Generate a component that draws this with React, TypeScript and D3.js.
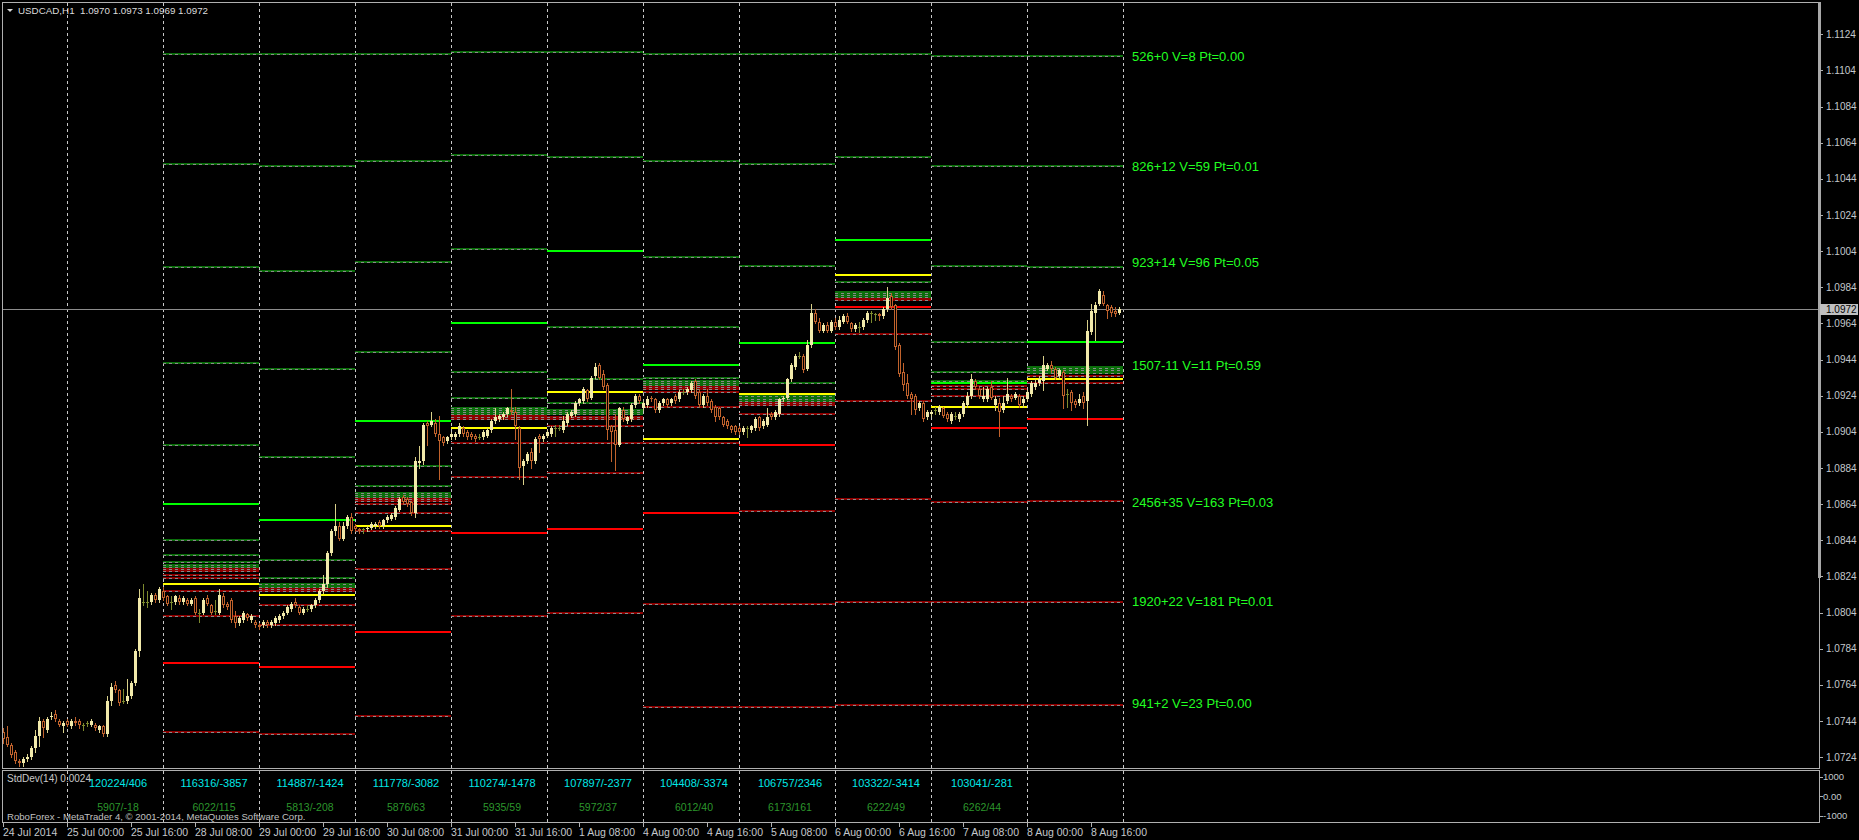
import React from "react";
import * as d3 from "d3";

const FONT = "'Liberation Sans', Arial, sans-serif";

// ---------- Candles (open, high, low, close) per trading day ----------
const c0724 = [
  [1.0738,1.0740,1.0732,1.0734],[1.0735,1.0741,1.0730,1.0731],[1.0731,1.0732,1.0724,1.0725],[1.0727,1.0728,1.0721,1.0722],
  [1.0722,1.0723,1.0719,1.0721],[1.0721,1.0724,1.0719,1.0723],[1.0723,1.0726,1.0722,1.0724],[1.0724,1.0730,1.0723,1.0729],
  [1.0729,1.0739,1.0727,1.0736],[1.0736,1.0746,1.0730,1.0744],[1.0744,1.0745,1.0735,1.0740],[1.0739,1.0746,1.0738,1.0745],
  [1.0746,1.0749,1.0745,1.0747],[1.0748,1.0750,1.0744,1.0745],[1.0744,1.0745,1.0741,1.0742],[1.0741,1.0744,1.0738,1.0743],
];
const c0725 = [
  [1.0744,1.0745,1.0741,1.0742],[1.0741,1.0745,1.0740,1.0744],[1.0744,1.0746,1.0742,1.0743],[1.0744,1.0745,1.0740,1.0742],
  [1.0742,1.0743,1.0739,1.0742],[1.0743,1.0744,1.0741,1.0743],[1.0742,1.0745,1.0741,1.0744],[1.0742,1.0743,1.0739,1.0740],
  [1.0739,1.0742,1.0738,1.0741],[1.0741,1.0742,1.0736,1.0737],[1.0737,1.0758,1.0736,1.0755],[1.0755,1.0765,1.0753,1.0763],
  [1.0764,1.0766,1.0760,1.0761],[1.0761,1.0762,1.0753,1.0754],[1.0755,1.0762,1.0754,1.0755],[1.0755,1.0767,1.0754,1.0758],
  [1.0758,1.0766,1.0757,1.0765],[1.0765,1.0784,1.0764,1.0783],[1.0783,1.0817,1.0780,1.0812],[1.0810,1.0820,1.0808,1.0810],
  [1.0810,1.0816,1.0807,1.0810],[1.0810,1.0815,1.0809,1.0814],[1.0814,1.0815,1.0810,1.0811],[1.0811,1.0818,1.0810,1.0817],
];
const c0728 = [
  [1.0816,1.0818,1.0811,1.0812],[1.0813,1.0814,1.0808,1.0809],[1.0810,1.0813,1.0806,1.0810],[1.0810,1.0814,1.0809,1.0813],
  [1.0812,1.0814,1.0809,1.0810],[1.0810,1.0813,1.0809,1.0812],[1.0811,1.0812,1.0808,1.0809],[1.0809,1.0812,1.0808,1.0811],
  [1.0812,1.0813,1.0803,1.0804],[1.0804,1.0806,1.0799,1.0804],[1.0804,1.0812,1.0803,1.0811],[1.0812,1.0814,1.0808,1.0809],
  [1.0808,1.0809,1.0803,1.0804],[1.0805,1.0811,1.0803,1.0805],[1.0804,1.0817,1.0803,1.0814],[1.0813,1.0815,1.0807,1.0808],
  [1.0809,1.0810,1.0806,1.0807],[1.0811,1.0812,1.0799,1.0800],[1.0802,1.0805,1.0796,1.0798],[1.0798,1.0802,1.0797,1.0801],
  [1.0800,1.0805,1.0799,1.0804],[1.0803,1.0804,1.0800,1.0801],[1.0800,1.0803,1.0799,1.0802],[1.0799,1.0800,1.0796,1.0797],
];
const c0729 = [
  [1.0797,1.0798,1.0795,1.0796],[1.0797,1.0800,1.0796,1.0799],[1.0799,1.0800,1.0796,1.0797],[1.0797,1.0800,1.0796,1.0799],
  [1.0798,1.0802,1.0797,1.0801],[1.0800,1.0803,1.0799,1.0802],[1.0802,1.0805,1.0801,1.0804],[1.0804,1.0808,1.0803,1.0807],
  [1.0806,1.0810,1.0805,1.0809],[1.0810,1.0812,1.0807,1.0808],[1.0807,1.0808,1.0803,1.0804],[1.0804,1.0807,1.0803,1.0806],
  [1.0806,1.0808,1.0805,1.0806],[1.0806,1.0809,1.0805,1.0808],[1.0808,1.0812,1.0807,1.0811],[1.0811,1.0817,1.0810,1.0816],
  [1.0816,1.0825,1.0815,1.0820],[1.0820,1.0838,1.0818,1.0837],[1.0837,1.0850,1.0836,1.0849],[1.0849,1.0864,1.0847,1.0852],
  [1.0852,1.0854,1.0844,1.0845],[1.0845,1.0854,1.0844,1.0852],[1.0852,1.0858,1.0851,1.0857],[1.0857,1.0859,1.0848,1.0849],
];
const c0730 = [
  [1.0852,1.0853,1.0849,1.0850],[1.0850,1.0851,1.0848,1.0849],[1.0850,1.0851,1.0848,1.0850],[1.0850,1.0852,1.0849,1.0851],
  [1.0851,1.0854,1.0850,1.0853],[1.0852,1.0854,1.0851,1.0853],[1.0854,1.0855,1.0851,1.0852],[1.0852,1.0856,1.0851,1.0855],
  [1.0855,1.0858,1.0854,1.0857],[1.0856,1.0859,1.0855,1.0858],[1.0857,1.0863,1.0856,1.0862],[1.0861,1.0868,1.0860,1.0867],
  [1.0868,1.0869,1.0864,1.0865],[1.0867,1.0868,1.0863,1.0864],[1.0865,1.0866,1.0858,1.0859],[1.0859,1.0890,1.0857,1.0888],
  [1.0887,1.0896,1.0884,1.0888],[1.0888,1.0909,1.0886,1.0908],[1.0909,1.0910,1.0897,1.0907],[1.0908,1.0915,1.0907,1.0910],
  [1.0909,1.0911,1.0902,1.0903],[1.0903,1.0913,1.0878,1.0899],[1.0901,1.0902,1.0897,1.0898],[1.0899,1.0902,1.0898,1.0901],
];
const c0731 = [
  [1.0901,1.0904,1.0900,1.0903],[1.0901,1.0904,1.0900,1.0903],[1.0903,1.0909,1.0902,1.0907],[1.0906,1.0907,1.0902,1.0903],
  [1.0904,1.0905,1.0900,1.0901],[1.0903,1.0904,1.0900,1.0901],[1.0902,1.0903,1.0899,1.0900],[1.0901,1.0903,1.0900,1.0901],
  [1.0901,1.0905,1.0900,1.0904],[1.0902,1.0906,1.0901,1.0905],[1.0905,1.0911,1.0904,1.0910],[1.0910,1.0917,1.0909,1.0912],
  [1.0911,1.0914,1.0910,1.0913],[1.0912,1.0915,1.0911,1.0914],[1.0914,1.0918,1.0913,1.0917],[1.0916,1.0928,1.0914,1.0915],
  [1.0915,1.0918,1.0900,1.0907],[1.0906,1.0907,1.0878,1.0884],[1.0885,1.0889,1.0875,1.0888],[1.0888,1.0893,1.0887,1.0892],
  [1.0893,1.0895,1.0884,1.0888],[1.0888,1.0901,1.0887,1.0900],[1.0902,1.0903,1.0893,1.0900],[1.0900,1.0903,1.0899,1.0902],
];
const c0801 = [
  [1.0902,1.0905,1.0901,1.0904],[1.0903,1.0907,1.0902,1.0906],[1.0906,1.0908,1.0902,1.0906],[1.0906,1.0908,1.0905,1.0906],
  [1.0905,1.0913,1.0904,1.0910],[1.0909,1.0915,1.0908,1.0914],[1.0913,1.0916,1.0912,1.0915],[1.0914,1.0921,1.0913,1.0920],
  [1.0920,1.0923,1.0919,1.0922],[1.0921,1.0929,1.0920,1.0928],[1.0927,1.0928,1.0921,1.0922],[1.0923,1.0935,1.0922,1.0934],
  [1.0935,1.0942,1.0934,1.0940],[1.0941,1.0942,1.0933,1.0934],[1.0936,1.0938,1.0928,1.0929],[1.0930,1.0931,1.0900,1.0905],
  [1.0907,1.0908,1.0888,1.0904],[1.0905,1.0914,1.0883,1.0897],[1.0897,1.0918,1.0896,1.0917],[1.0916,1.0918,1.0910,1.0911],
  [1.0910,1.0913,1.0909,1.0912],[1.0911,1.0920,1.0910,1.0919],[1.0919,1.0925,1.0918,1.0924],[1.0924,1.0925,1.0920,1.0921],
];
const c0804 = [
  [1.0917,1.0921,1.0916,1.0920],[1.0919,1.0924,1.0918,1.0922],[1.0923,1.0924,1.0921,1.0922],[1.0922,1.0923,1.0915,1.0916],
  [1.0916,1.0921,1.0915,1.0920],[1.0920,1.0923,1.0919,1.0922],[1.0922,1.0923,1.0918,1.0919],[1.0920,1.0923,1.0919,1.0922],
  [1.0924,1.0925,1.0920,1.0921],[1.0922,1.0927,1.0921,1.0926],[1.0926,1.0928,1.0925,1.0926],[1.0926,1.0929,1.0925,1.0928],
  [1.0927,1.0932,1.0926,1.0931],[1.0932,1.0933,1.0923,1.0924],[1.0926,1.0928,1.0918,1.0919],[1.0919,1.0925,1.0918,1.0924],
  [1.0924,1.0928,1.0919,1.0920],[1.0921,1.0922,1.0915,1.0916],[1.0918,1.0919,1.0910,1.0912],[1.0917,1.0918,1.0911,1.0912],
  [1.0912,1.0913,1.0907,1.0908],[1.0910,1.0911,1.0906,1.0907],[1.0907,1.0908,1.0904,1.0905],[1.0907,1.0908,1.0903,1.0904],
];
const c0805 = [
  [1.0906,1.0907,1.0903,1.0904],[1.0904,1.0907,1.0903,1.0906],[1.0906,1.0907,1.0901,1.0906],[1.0905,1.0908,1.0904,1.0907],
  [1.0906,1.0912,1.0905,1.0911],[1.0912,1.0913,1.0905,1.0906],[1.0907,1.0911,1.0906,1.0910],[1.0908,1.0917,1.0907,1.0912],
  [1.0914,1.0915,1.0911,1.0912],[1.0912,1.0916,1.0911,1.0915],[1.0914,1.0923,1.0913,1.0922],[1.0922,1.0924,1.0921,1.0923],
  [1.0923,1.0934,1.0922,1.0933],[1.0933,1.0942,1.0932,1.0941],[1.0940,1.0947,1.0939,1.0946],[1.0946,1.0948,1.0945,1.0946],
  [1.0946,1.0947,1.0937,1.0938],[1.0939,1.0955,1.0938,1.0952],[1.0952,1.0975,1.0951,1.0970],[1.0970,1.0972,1.0964,1.0965],
  [1.0965,1.0967,1.0959,1.0960],[1.0960,1.0964,1.0959,1.0963],[1.0963,1.0965,1.0959,1.0960],[1.0960,1.0966,1.0959,1.0965],
];
const c0806 = [
  [1.0965,1.0967,1.0961,1.0962],[1.0962,1.0968,1.0961,1.0966],[1.0965,1.0969,1.0964,1.0968],[1.0968,1.0970,1.0964,1.0965],
  [1.0964,1.0965,1.0960,1.0961],[1.0961,1.0964,1.0960,1.0963],[1.0962,1.0965,1.0959,1.0962],[1.0962,1.0967,1.0961,1.0966],
  [1.0966,1.0971,1.0965,1.0970],[1.0970,1.0971,1.0965,1.0970],[1.0969,1.0970,1.0966,1.0969],[1.0969,1.0970,1.0966,1.0968],
  [1.0968,1.0973,1.0967,1.0972],[1.0972,1.0984,1.0971,1.0978],[1.0979,1.0981,1.0972,1.0973],[1.0974,1.0975,1.0950,1.0951],
  [1.0952,1.0953,1.0935,1.0936],[1.0937,1.0942,1.0927,1.0930],[1.0931,1.0936,1.0923,1.0924],[1.0925,1.0926,1.0914,1.0922],
  [1.0924,1.0925,1.0914,1.0916],[1.0917,1.0921,1.0916,1.0920],[1.0920,1.0921,1.0910,1.0911],[1.0912,1.0916,1.0911,1.0915],
];
const c0807 = [
  [1.0914,1.0916,1.0913,1.0915],[1.0916,1.0918,1.0914,1.0916],[1.0915,1.0919,1.0914,1.0918],[1.0917,1.0918,1.0912,1.0913],
  [1.0914,1.0915,1.0910,1.0911],[1.0910,1.0915,1.0909,1.0914],[1.0913,1.0915,1.0911,1.0913],[1.0911,1.0915,1.0910,1.0914],
  [1.0914,1.0921,1.0913,1.0920],[1.0919,1.0926,1.0918,1.0924],[1.0924,1.0936,1.0923,1.0933],[1.0932,1.0933,1.0928,1.0929],
  [1.0928,1.0929,1.0923,1.0924],[1.0922,1.0929,1.0921,1.0924],[1.0922,1.0929,1.0921,1.0928],[1.0929,1.0932,1.0922,1.0923],
  [1.0919,1.0924,1.0916,1.0922],[1.0920,1.0923,1.0902,1.0915],[1.0916,1.0924,1.0915,1.0920],[1.0921,1.0934,1.0920,1.0925],
  [1.0924,1.0925,1.0921,1.0922],[1.0923,1.0926,1.0922,1.0925],[1.0924,1.0925,1.0918,1.0919],[1.0920,1.0924,1.0918,1.0922],
];
const c0808 = [
  [1.0922,1.0927,1.0921,1.0926],[1.0925,1.0932,1.0924,1.0931],[1.0929,1.0933,1.0928,1.0931],[1.0931,1.0935,1.0930,1.0933],
  [1.0932,1.0946,1.0927,1.0941],[1.0939,1.0942,1.0938,1.0941],[1.0941,1.0943,1.0937,1.0939],[1.0939,1.0940,1.0933,1.0934],
  [1.0935,1.0939,1.0934,1.0938],[1.0937,1.0938,1.0917,1.0924],[1.0925,1.0928,1.0918,1.0925],[1.0926,1.0927,1.0916,1.0920],
  [1.0921,1.0922,1.0918,1.0919],[1.0920,1.0925,1.0919,1.0922],[1.0924,1.0926,1.0917,1.0920],[1.0921,1.0966,1.0908,1.0960],
  [1.0959,1.0975,1.0958,1.0971],[1.0970,1.0976,1.0955,1.0974],[1.0975,1.0983,1.0974,1.0982],[1.0980,1.0982,1.0974,1.0975],
  [1.0974,1.0975,1.0967,1.0971],[1.0973,1.0974,1.0968,1.0970],[1.0971,1.0973,1.0968,1.0969],[1.0970,1.0973,1.0969,1.0972],
];

// ---------- Daily levels: g = green dashed, r = red dashed, G = green, Y = yellow, R = red ----------
const lv0728 = [[1.1113,"g"],[1.1052,"g"],[1.0995,"g"],[1.0942,"g"],[1.0897,"g"],[1.0864,"G"],[1.0844,"g"],[1.0836,"g"],[1.0832,"g"],[1.08304,"g"],[1.08293,"g"],[1.08281,"r"],[1.0827,"r"],[1.0825,"r"],[1.0823,"r"],[1.0820,"Y"],[1.0816,"r"],[1.0802,"r"],[1.0776,"R"],[1.0738,"r"]];
const lv0729 = [[1.1113,"g"],[1.1051,"g"],[1.0993,"g"],[1.0939,"g"],[1.0890,"g"],[1.0855,"G"],[1.0833,"g"],[1.0823,"g"],[1.0820,"g"],[1.0819,"g"],[1.0818,"g"],[1.0817,"r"],[1.0816,"r"],[1.0814,"Y"],[1.0808,"r"],[1.0797,"r"],[1.0774,"R"],[1.0737,"r"]];
const lv0730 = [[1.1113,"g"],[1.1054,"g"],[1.0998,"g"],[1.0948,"g"],[1.0910,"G"],[1.0885,"g"],[1.0874,"g"],[1.0870,"g"],[1.0869,"g"],[1.0868,"g"],[1.0867,"r"],[1.0866,"r"],[1.0864,"r"],[1.0859,"r"],[1.0852,"Y"],[1.0849,"r"],[1.0828,"r"],[1.0793,"R"],[1.0747,"r"]];
const lv0731 = [[1.1114,"g"],[1.1057,"g"],[1.1005,"g"],[1.0964,"G"],[1.0937,"g"],[1.0923,"g"],[1.0917,"g"],[1.0916,"g"],[1.0915,"g"],[1.0914,"g"],[1.0913,"r"],[1.0912,"r"],[1.0911,"r"],[1.0906,"Y"],[1.0898,"r"],[1.0879,"r"],[1.0848,"R"],[1.0802,"r"]];
const lv0801 = [[1.1114,"g"],[1.1056,"g"],[1.1004,"G"],[1.0962,"g"],[1.0933,"g"],[1.0926,"Y"],[1.0920,"g"],[1.0916,"g"],[1.0915,"g"],[1.0914,"g"],[1.0912,"r"],[1.0911,"r"],[1.0907,"r"],[1.0898,"r"],[1.0881,"r"],[1.0850,"R"],[1.0804,"r"]];
const lv0804 = [[1.1113,"g"],[1.1054,"g"],[1.1001,"g"],[1.0962,"g"],[1.0941,"G"],[1.0934,"g"],[1.0932,"g"],[1.0931,"g"],[1.0930,"g"],[1.0929,"r"],[1.0928,"r"],[1.0926,"r"],[1.0918,"r"],[1.0900,"Y"],[1.0898,"r"],[1.0859,"R"],[1.0809,"r"],[1.0752,"r"]];
const lv0805 = [[1.1113,"g"],[1.1052,"g"],[1.0996,"g"],[1.0953,"G"],[1.0931,"g"],[1.0924,"g"],[1.0923,"g"],[1.0922,"g"],[1.0921,"g"],[1.0920,"r"],[1.0919,"r"],[1.0925,"Y"],[1.0914,"r"],[1.0897,"R"],[1.0860,"r"],[1.0809,"r"],[1.0752,"r"]];
const lv0806 = [[1.1113,"g"],[1.1056,"g"],[1.1010,"G"],[1.0991,"Y"],[1.0987,"g"],[1.09814,"g"],[1.09806,"g"],[1.09797,"g"],[1.09789,"g"],[1.09778,"r"],[1.0977,"r"],[1.0973,"R"],[1.0958,"r"],[1.0921,"r"],[1.0867,"r"],[1.0810,"r"],[1.0753,"r"]];
const lv0807 = [[1.1112,"g"],[1.1051,"g"],[1.0996,"g"],[1.0954,"g"],[1.0937,"g"],[1.0932,"g"],[1.09295,"r"],[1.0928,"r"],[1.0924,"r"],[1.0931,"G"],[1.0918,"Y"],[1.0906,"R"],[1.0865,"r"],[1.0810,"r"],[1.0753,"r"]];
const lv0808 = [[1.1112,"g"],[1.1051,"g"],[1.0995,"g"],[1.0954,"G"],[1.09401,"g"],[1.09392,"g"],[1.09383,"g"],[1.09373,"g"],[1.09364,"g"],[1.0935,"r"],[1.0931,"r"],[1.0933,"Y"],[1.0911,"R"],[1.0866,"r"],[1.0810,"r"],[1.0753,"r"]];

const levelLabels = ["526+0 V=8 Pt=0.00","826+12 V=59 Pt=0.01","923+14 V=96 Pt=0.05","1507-11 V=11 Pt=0.59","2456+35 V=163 Pt=0.03","1920+22 V=181 Pt=0.01","941+2 V=23 Pt=0.00"];
const levelLabelPrices = [1.1112, 1.1051, 1.0998, 1.0941, 1.0865, 1.0810, 1.0754];

// ---------- Indicator panel texts ----------
const panelTop = ["120224/406","116316/-3857","114887/-1424","111778/-3082","110274/-1478","107897/-2377","104408/-3374","106757/2346","103322/-3414","103041/-281"];
const panelBottom = ["5907/-18","6022/115","5813/-208","5876/63","5935/59","5972/37","6012/40","6173/161","6222/49","6262/44"];

// ---------- Axes ----------
const priceTicks = [1.1124,1.1104,1.1084,1.1064,1.1044,1.1024,1.1004,1.0984,1.0964,1.0944,1.0924,1.0904,1.0884,1.0864,1.0844,1.0824,1.0804,1.0784,1.0764,1.0744,1.0724];
const timeLabels = ["24 Jul 2014","25 Jul 00:00","25 Jul 16:00","28 Jul 08:00","29 Jul 00:00","29 Jul 16:00","30 Jul 08:00","31 Jul 00:00","31 Jul 16:00","1 Aug 08:00","4 Aug 00:00","4 Aug 16:00","5 Aug 08:00","6 Aug 00:00","6 Aug 16:00","7 Aug 08:00","8 Aug 00:00","8 Aug 16:00"];
const panelTicks = [1000, 0, -1000];
const panelTickLabels = ["1000", "0.00", "-1000"];
const lastQuote = ["1.0970", "1.0973", "1.0969", "1.0972"];
const lastPrice = 1.0972;

const L = 2, R = 1819, T = 2, B = 768, PT = 770, PB = 822;

export default function App() {
  const candles = [...c0724, ...c0725, ...c0728, ...c0729, ...c0730, ...c0731, ...c0801, ...c0804, ...c0805, ...c0806, ...c0807, ...c0808];
  const levelSets = [lv0728, lv0729, lv0730, lv0731, lv0801, lv0804, lv0805, lv0806, lv0807, lv0808];
  const x = d3.scaleLinear().domain([0, 280]).range([3, 1123]);
  const y = d3.scaleLinear().domain([1.0724, 1.1124]).range([757.2, 34.3]);
  const yp = d3.scaleLinear().domain([-1000, 1000]).range([815.7, 776.9]);
  const sepIdx = d3.range(16, 281, 24);
  const ry = (v: number) => Math.round(y(v));

  const gray = "#c4c8cc";
  const frame = "#b0b0b0";

  return (
    <svg width={1859} height={840} style={{ position: "absolute", left: 0, top: 0, display: "block" }} fontFamily={FONT}>
      <defs>
        <clipPath id="main"><rect x={L} y={T} width={R - L} height={B - T} /></clipPath>
      </defs>
      <rect x={0} y={0} width={1859} height={840} fill="#000" />

      {/* day separators */}
      <g shapeRendering="crispEdges" stroke="#c8c8c8" strokeWidth={1} strokeDasharray="3,3">
        {sepIdx.map((i) => (
          <g key={i}>
            <line x1={Math.round(x(i)) + 0.5} x2={Math.round(x(i)) + 0.5} y1={T + 1} y2={B} />
            <line x1={Math.round(x(i)) + 0.5} x2={Math.round(x(i)) + 0.5} y1={PT + 1} y2={PB} />
          </g>
        ))}
      </g>

      {/* levels */}
      <g clipPath="url(#main)" shapeRendering="crispEdges">
        {levelSets.map((set, s) => {
          const x1 = Math.round(x(40 + 24 * s));
          const x2 = Math.round(x(64 + 24 * s));
          const dashed = set.filter((d) => d[1] === "g" || d[1] === "r");
          const solid = set.filter((d) => d[1] === "G" || d[1] === "Y" || d[1] === "R");
          return (
            <g key={s}>
              {dashed.map((d, k) => {
                const yy = ry(d[0] as number);
                return (
                  <g key={"d" + k}>
                    <line x1={x1} x2={x2} y1={yy} y2={yy} stroke={d[1] === "g" ? "#0b6e0b" : "#8e0000"} strokeWidth={2} />
                    <line x1={x1} x2={x2} y1={yy + 0.5} y2={yy + 0.5} stroke="#8a8a8a" strokeWidth={1} strokeDasharray="3,3" />
                  </g>
                );
              })}
              {solid.map((d, k) => {
                const yy = ry(d[0] as number);
                const col = d[1] === "G" ? "#00ff00" : d[1] === "Y" ? "#ffff00" : "#ff0000";
                return <line key={"s" + k} x1={x1} x2={x2} y1={yy} y2={yy} stroke={col} strokeWidth={2} />;
              })}
            </g>
          );
        })}
      </g>

      {/* bid line */}
      <line x1={L} x2={R} y1={ry(lastPrice) + 0.5} y2={ry(lastPrice) + 0.5} stroke="#8c8c8c" strokeWidth={1} shapeRendering="crispEdges" />

      {/* candles */}
      <g clipPath="url(#main)" shapeRendering="crispEdges">
        {candles.map((c, i) => {
          const [o, h, l, cl] = c;
          const cx = Math.round(x(i));
          const yo = ry(o), yc = ry(cl), yh = ry(h), yl = ry(l);
          const top = Math.min(yo, yc), bot = Math.max(yo, yc);
          if (o === cl) {
            const col = "#7d8a2e";
            return (
              <g key={i}>
                <line x1={cx + 0.5} x2={cx + 0.5} y1={yh} y2={yl + 1} stroke={col} />
                <line x1={cx - 1} x2={cx + 2} y1={yo + 0.5} y2={yo + 0.5} stroke={col} />
              </g>
            );
          }
          if (cl > o) {
            return (
              <g key={i}>
                <line x1={cx + 0.5} x2={cx + 0.5} y1={yh} y2={yl + 1} stroke="#d9d08a" />
                <rect x={cx - 1} y={top} width={3} height={Math.max(1, bot - top)} fill="#f2eaab" />
              </g>
            );
          }
          const hgt = bot - top;
          return (
            <g key={i}>
              <line x1={cx + 0.5} x2={cx + 0.5} y1={yh} y2={yl + 1} stroke="#c0622c" />
              {hgt >= 3 ? (
                <rect x={cx - 0.5} y={top + 0.5} width={2} height={hgt - 1} fill="#000" stroke="#c0622c" strokeWidth={1} />
              ) : (
                <rect x={cx - 1} y={top} width={3} height={Math.max(1, hgt)} fill="#c0622c" />
              )}
            </g>
          );
        })}
      </g>

      {/* level labels */}
      {levelLabels.map((t, k) => (
        <text key={t} x={1132} y={y(levelLabelPrices[k])} dy="0.35em" fontSize={13} fill="#22ff22">{t}</text>
      ))}

      {/* frames */}
      <g shapeRendering="crispEdges" fill="none" stroke={frame} strokeWidth={1}>
        <rect x={L + 0.5} y={T + 0.5} width={R - L} height={B - T} />
        <rect x={L + 0.5} y={PT + 0.5} width={R - L} height={PB - PT} />
      </g>
      <rect x={R - 1} y={T} width={3} height={578 - T} fill="#a8a8a8" shapeRendering="crispEdges" />

      {/* price axis */}
      <g fontSize={10} fill={gray}>
        {priceTicks.map((p) => (
          <g key={p}>
            <line x1={R + 1} x2={R + 4} y1={ry(p) + 0.5} y2={ry(p) + 0.5} stroke={frame} shapeRendering="crispEdges" />
            <text x={1826} y={y(p)} dy="0.35em">{p.toFixed(4)}</text>
          </g>
        ))}
      </g>
      <rect x={1820} y={ry(lastPrice) - 5} width={38} height={11} fill="#c0c0c0" shapeRendering="crispEdges" />
      <text x={1826} y={y(lastPrice)} dy="0.35em" fontSize={10} fill="#000">{lastPrice.toFixed(4)}</text>

      {/* header */}
      <polygon points="7,9 13,9 10,12" fill="#d8d8d8" />
      <text x={18} y={14} fontSize={9.8} fill="#dcdcdc">USDCAD,H1</text>
      <text x={80} y={14} fontSize={9.8} fill="#dcdcdc">{lastQuote.join(" ")}</text>

      {/* indicator panel */}
      <text x={7} y={782} fontSize={10} fill="#c8c8c8">StdDev(14) 0.0024</text>
      {panelTop.map((t, k) => (
        <text key={t} x={x(16 + 24 * k) + 51} y={787} textAnchor="middle" fontSize={11} fill="#00e8e8">{t}</text>
      ))}
      {panelBottom.map((t, k) => (
        <text key={t} x={x(16 + 24 * k) + 51} y={811} textAnchor="middle" fontSize={10.5} fill="#2c962c">{t}</text>
      ))}
      <text x={7} y={820} fontSize={9.6} fill="#c0c0c0">RoboForex - MetaTrader 4, © 2001-2014, MetaQuotes Software Corp.</text>
      <g fontSize={9.5} fill={gray}>
        {panelTicks.map((v, k) => (
          <g key={v}>
            <line x1={R + 1} x2={R + 4} y1={Math.round(yp(v)) + 0.5} y2={Math.round(yp(v)) + 0.5} stroke={frame} shapeRendering="crispEdges" />
            <text x={1823} y={yp(v)} dy="0.35em">{panelTickLabels[k]}</text>
          </g>
        ))}
      </g>

      {/* time axis */}
      <g fontSize={10.5} fill={gray}>
        {timeLabels.map((t, k) => {
          const xx = Math.round(x(16 * k));
          return (
            <g key={t}>
              <line x1={xx + 0.5} x2={xx + 0.5} y1={PB + 1} y2={PB + 5} stroke={frame} shapeRendering="crispEdges" />
              <text x={xx} y={836}>{t}</text>
            </g>
          );
        })}
      </g>
    </svg>
  );
}
